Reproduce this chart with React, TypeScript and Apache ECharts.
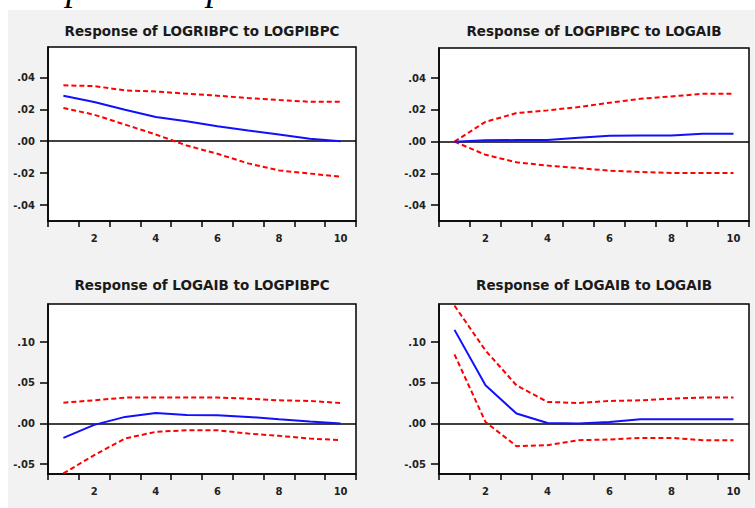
import React, { useEffect, useRef } from "react";
import * as echarts from "echarts";

const CATEGORIES = ["1", "2", "3", "4", "5", "6", "7", "8", "9", "10"];

const TITLES = [
  "Response of LOGRIBPC to LOGPIBPC",
  "Response of LOGPIBPC to LOGAIB",
  "Response of LOGAIB to LOGPIBPC",
  "Response of LOGAIB to LOGAIB",
];

// top-left: LOGRIBPC to LOGPIBPC
const TL_RESP = [0.0285, 0.0245, 0.0197, 0.0152, 0.0125, 0.0093, 0.0067, 0.0042, 0.0015, 0.0];
const TL_UP = [0.035, 0.0345, 0.0318, 0.0312, 0.0297, 0.0285, 0.027, 0.0258, 0.0247, 0.0247];
const TL_LO = [0.0208, 0.0166, 0.0104, 0.0042, -0.0027, -0.0079, -0.0139, -0.0183, -0.0203, -0.0222];

// top-right: LOGPIBPC to LOGAIB
const TR_RESP = [0, 0.0008, 0.001, 0.001, 0.0025, 0.0037, 0.0038, 0.0039, 0.005, 0.005];
const TR_UP = [0, 0.0125, 0.018, 0.0197, 0.0218, 0.0245, 0.027, 0.0285, 0.0301, 0.0301];
const TR_LO = [0, -0.0083, -0.013, -0.0151, -0.0166, -0.0183, -0.0191, -0.0197, -0.0197, -0.0197];

// bottom-left: LOGAIB to LOGPIBPC
const BL_RESP = [-0.0176, -0.0016, 0.0082, 0.0131, 0.0106, 0.0102, 0.0082, 0.0053, 0.0025, 0.0];
const BL_UP = [0.0257, 0.0286, 0.0319, 0.032, 0.032, 0.032, 0.0306, 0.0286, 0.0278, 0.0253];
const BL_LO = [-0.0613, -0.0388, -0.0184, -0.0102, -0.0082, -0.0082, -0.0123, -0.0151, -0.0184, -0.0204];

// bottom-right: LOGAIB to LOGAIB
const BR_RESP = [0.1152, 0.047, 0.0123, 0.0008, 0, 0.002, 0.0053, 0.0053, 0.0053, 0.0053];
const BR_UP = [0.145, 0.0899, 0.047, 0.0266, 0.0253, 0.0278, 0.0286, 0.0306, 0.032, 0.032];
const BR_LO = [0.085, 0.002, -0.0278, -0.0266, -0.0204, -0.0196, -0.0176, -0.0176, -0.0204, -0.0204];

const TOP_TICKS = [-0.04, -0.02, 0, 0.02, 0.04];
const BOTTOM_TICKS = [-0.05, 0, 0.05, 0.1];

const PANELS = [
  { resp: TL_RESP, up: TL_UP, lo: TL_LO, min: -0.05, max: 0.059, ticks: TOP_TICKS },
  { resp: TR_RESP, up: TR_UP, lo: TR_LO, min: -0.05, max: 0.059, ticks: TOP_TICKS },
  { resp: BL_RESP, up: BL_UP, lo: BL_LO, min: -0.062, max: 0.147, ticks: BOTTOM_TICKS },
  { resp: BR_RESP, up: BR_UP, lo: BR_LO, min: -0.062, max: 0.147, ticks: BOTTOM_TICKS },
];

const GRIDS = [
  { left: 48, top: 47, width: 308, height: 174 },
  { left: 439, top: 48, width: 310, height: 173 },
  { left: 48, top: 304, width: 308, height: 170 },
  { left: 439, top: 304, width: 310, height: 170 },
];

const TITLE_POS = [
  { x: 202, y: 30.5 },
  { x: 594, y: 30.5 },
  { x: 202, y: 284.5 },
  { x: 594, y: 284.5 },
];

const fmt = (v: number) => {
  const s = Math.abs(v) < 1e-9 ? "0.00" : v.toFixed(2);
  return s.replace(/^(-?)0\./, "$1.");
};

export default function App() {
  const ref = useRef<HTMLDivElement>(null);
  useEffect(() => {
    document.body.style.margin = "0";
    if (!ref.current) return;
    const chart = echarts.init(ref.current, undefined, { renderer: "svg" });
    const labelFont = {
      fontFamily: "DejaVu Sans",
      fontWeight: "bold" as const,
      fontSize: 10,
      color: "#222",
    };
    const grid = GRIDS.map((g) => ({
      ...g,
      show: true,
      backgroundColor: "#ffffff",
      borderColor: "#000000",
      borderWidth: 1.5,
      containLabel: false,
    }));
    const xAxis = PANELS.map((_, i) => ({
      type: "category",
      gridIndex: i,
      position: "bottom",
      data: CATEGORIES,
      boundaryGap: true,
      axisLine: { show: true, onZero: false, lineStyle: { color: "#000", width: 1.5 } },
      axisTick: { show: true, interval: 0, length: 6, lineStyle: { color: "#000", width: 1.5 } },
      axisLabel: {
        ...labelFont,
        margin: 12,
        interval: (idx: number) => (idx + 1) % 2 === 0,
      },
      splitLine: { show: false },
    }));
    const yAxis = PANELS.map((p, i) => ({
      type: "value",
      gridIndex: i,
      min: p.min,
      max: p.max,
      axisLine: { show: true, onZero: false, lineStyle: { color: "#000", width: 1.5 } },
      axisTick: {
        show: true,
        length: 8,
        customValues: p.ticks,
        lineStyle: { color: "#000", width: 1.5 },
      },
      axisLabel: {
        ...labelFont,
        margin: 13,
        customValues: p.ticks,
        formatter: (v: number) => fmt(v),
      },
      splitLine: { show: false },
    }));
    const series: any[] = [];
    PANELS.forEach((p, i) => {
      series.push({
        type: "line",
        xAxisIndex: i,
        yAxisIndex: i,
        data: p.up,
        symbol: "none",
        lineStyle: { color: "#ff0000", width: 2, type: [5, 3] },
        z: 3,
      });
      series.push({
        type: "line",
        xAxisIndex: i,
        yAxisIndex: i,
        data: p.lo,
        symbol: "none",
        lineStyle: { color: "#ff0000", width: 2, type: [5, 3] },
        z: 3,
      });
      series.push({
        type: "line",
        xAxisIndex: i,
        yAxisIndex: i,
        data: p.resp,
        symbol: "none",
        lineStyle: { color: "#1010ff", width: 2 },
        z: 4,
        markLine: {
          silent: true,
          symbol: "none",
          label: { show: false },
          lineStyle: { color: "#000", width: 1.5, type: "solid" },
          data: [{ yAxis: 0 }],
          z: 2,
        },
      });
    });
    const graphic: any[] = [
      {
        type: "rect",
        shape: { x: 8, y: 10, width: 747, height: 498 },
        style: { fill: "#f2f2f2" },
        z: -10,
        silent: true,
      },
      {
        type: "text",
        x: 27,
        y: -13,
        style: {
          text: "Impulse Response",
          fontFamily: "Liberation Serif",
          fontStyle: "italic",
          fontSize: 37,
          fill: "#000",
          verticalAlign: "middle",
          align: "left",
        },
        z: -5,
      },
      ...TITLES.map((t, i) => ({
        type: "text",
        x: TITLE_POS[i].x,
        y: TITLE_POS[i].y,
        style: {
          text: t,
          fontFamily: "DejaVu Sans",
          fontWeight: "bold",
          fontSize: 13.5,
          fill: "#1a1a1a",
          align: "center",
          verticalAlign: "middle",
        },
      })),
    ];
    chart.setOption({
      animation: false,
      backgroundColor: "#ffffff",
      grid,
      xAxis,
      yAxis,
      series,
      graphic,
    });
    return () => chart.dispose();
  }, []);
  return <div ref={ref} style={{ width: 755, height: 508 }} />;
}
